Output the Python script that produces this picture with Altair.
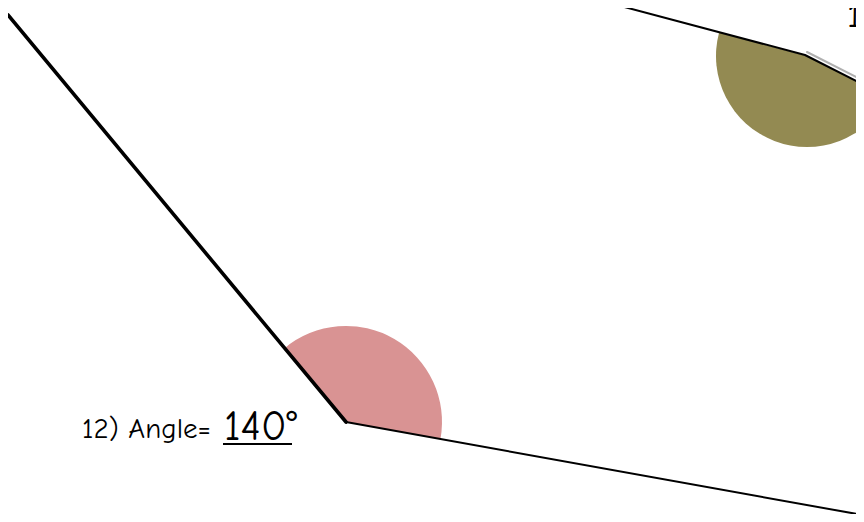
import altair as alt
import pandas as pd
import math

# Canvas in screen pixels (page margin 8px)
W, H = 848, 506
XDOM = [8, 856]
YDOM = [8, 514]

# Angle 12 (lower figure)
arm1_x = [8, 346]
arm1_y = [15, 422]
arm2_x = [346, 868]
arm2_y = [422, 516]

# Angle 11 (upper figure, partly cut off)
top_x = [598, 805, 870]
top_y = [0, 55, 88]
shadow_x = [807, 870]
shadow_y = [52, 84]

# Angle sectors (degrees clockwise from 12 o'clock)
arc_cx = [346, 807]
arc_cy = [422, 56]
arc_start = [320.3, 117.0]
arc_end = [460.2, 285.0]
arc_r = [96, 91]
arc_col = ["#d99393", "#938a52"]

# Labels
lab_text = ["12) Angle="]
lab_x = [82]
lab_y = [438]
lab11_text = ["11) Angle="]
lab11_x = [847]
lab11_y = [27]
ans_text = ["140°"]
ans_x = [224]
ans_y = [440]
uline_x = [223]
uline_x2 = [292]
uline_y = [444]

xs = alt.Scale(domain=XDOM)
ys = alt.Scale(domain=YDOM, reverse=True)
X = lambda f: alt.X(f, type="quantitative", scale=xs, axis=None)
Y = lambda f: alt.Y(f, type="quantitative", scale=ys, axis=None)

arcs = pd.DataFrame({
    "x": arc_cx, "y": arc_cy,
    "t1": [math.radians(a) for a in arc_start],
    "t2": [math.radians(a) for a in arc_end],
    "r": arc_r, "c": arc_col,
})
arc_layer = alt.Chart(arcs).mark_arc(stroke=None).encode(
    x=X("x"), y=Y("y"),
    theta=alt.Theta("t1:Q", scale=None, stack=None),
    theta2="t2:Q",
    radius=alt.Radius("r:Q", scale=None),
    color=alt.Color("c:N", scale=None),
)

def line(xv, yv, width, color="black"):
    df = pd.DataFrame({"x": xv, "y": yv, "o": list(range(len(xv)))})
    return alt.Chart(df).mark_line(color=color, strokeWidth=width, clip=True,
                                   strokeCap="round", strokeJoin="round").encode(
        x=X("x"), y=Y("y"), order="o:Q")

shadow = line(shadow_x, shadow_y, 2, "#b0b0b0")
arm1 = line(arm1_x, arm1_y, 3.6)
arm2 = line(arm2_x, arm2_y, 2)
top = line(top_x, top_y, 2)

FONT = "Comic Sans MS, Comic Neue, DejaVu Sans"

def text(tx, xv, yv, size):
    return alt.Chart(pd.DataFrame({"x": xv, "y": yv, "t": tx})).mark_text(
        align="left", baseline="alphabetic", fontSize=size, font=FONT, color="black"
    ).encode(x=X("x"), y=Y("y"), text="t:N")

labs = text(lab_text, lab_x, lab_y, 29)
lab11 = text(lab11_text, lab11_x, lab11_y, 36)
ans = text(ans_text, ans_x, ans_y, 42)
ul = alt.Chart(pd.DataFrame({"x": uline_x, "x2": uline_x2, "y": uline_y})).mark_rule(
    color="black", strokeWidth=2
).encode(x=X("x"), x2="x2:Q", y=Y("y"))

chart = alt.layer(arc_layer, shadow, arm1, arm2, top, labs, lab11, ans, ul).properties(
    width=W, height=H, padding=0, autosize=alt.AutoSizeParams(type="none"),
    background="white"
).configure_view(stroke=None)

chart.save("out.html", embed_options={"renderer": "svg", "actions": False})
